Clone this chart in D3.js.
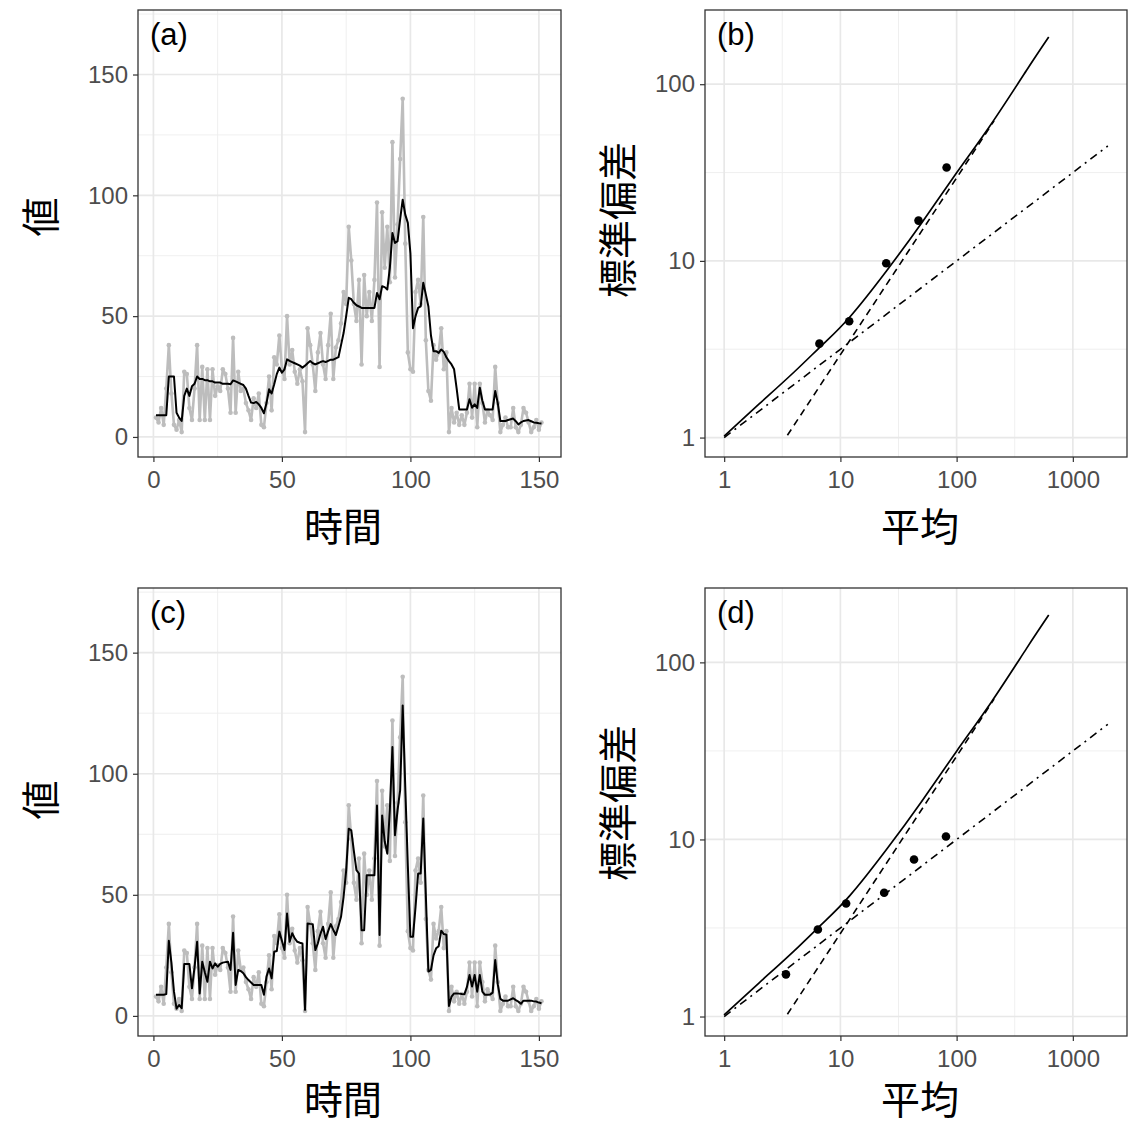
<!DOCTYPE html>
<html>
<head>
<meta charset="utf-8">
<script src="https://cdn.jsdelivr.net/npm/d3@7"></script>
<style>
  body { margin: 0; background: #fff; }
  .tick line { stroke: #333; stroke-width: 1.2; }
  .tick text { fill: #4d4d4d; font-family: "Liberation Sans", Arial, sans-serif; font-size: 24px; }
  .title { font-family: "Noto Sans CJK JP", sans-serif; font-size: 39px; fill: #000; }
  .plabel { font-family: "Liberation Sans", Arial, sans-serif; font-size: 31px; fill: #000; }
</style>
</head>
<body>
<div id="chart"></div>
<script>
// time series: raw counts (grey) and the two estimates (black)
var rawValues = [8,6,12,5,20,38,18,5,3,7, 2,27,26,12,7,20,38,7,29,7,
  28,7,28,17,21,19,28,26,20,10, 41,10,27,19,20,14,11,7,16,12,
  18,5,4,14,25,11,33,30,42,28, 24,50,30,36,27,22,28,23,2,45,
  38,30,19,35,43,30,24,38,51,24, 37,40,47,60,55,87,73,55,48,65,
  30,67,50,60,48,65,97,29,93,70, 87,64,122,66,88,115,140,80,35,28,
  27,60,65,55,91,40,19,15,38,32, 35,45,28,35,2,12,6,10,5,9,
  5,10,22,8,22,4,22,14,6,11, 9,7,29,14,2,5,8,4,4,12,
  4,2,5,12,10,6,2,4,7,3, 6];

var smoothA = [9,9,9,9,9,25,25,25,10,8, 6.6,17,20,17,21,22,25,24,24,23.5,
  23.5,23,23,22.5,22.5,22.5,22,22,22,21.8, 23.4,23,22.5,22,21.5,20,17,14.2,14,14.5,
  13.5,12,9.8,14,19.7,18,21.8,26,28.7,26.6, 28,32.1,31.5,31,30.5,30,29.5,28.7,29.5,30.5,
  31.4,30.5,30,30.5,31,31.4,31,31.5,32,32, 32.5,33,38,43,50,57.6,57,55.5,54.5,54,
  53.4,53.4,53.4,53.4,53.4,53.4,59.6,57,62.4,62, 61,70,84.4,80.3,81,90,98.2,92,88.6,76,
  45,50,53.4,54,63.8,59,54,42,35.5,35.5, 34.8,36.2,35.2,33,31.4,30,28,20,11.4,11.4,
  11.4,11.4,15.6,12.1,13.5,12,20.4,15,11.4,11.4, 11.4,11.4,19,14,6.6,6.6,6.6,7,7.3,7.6,
  6.5,5.2,6,6.6,6.8,7,6.5,6,5.9,5.7,5.6];

var smoothC = [8.7,8.7,8.7,8.7,9,31,22,10,3,4.5, 3.2,21.4,21.4,21.4,11.4,20,30.6,9.3,22.4,18,
  14.1,22.4,19.6,21.7,20.3,21.5,22,22.2,22.4,19, 34.3,12.8,19,18.5,17.6,16,14.8,13.8,12.8,12.8,
  12.8,12.8,8.7,16.2,19.6,15.5,26.5,26.8,34.8,31, 27.2,42.3,30.6,34.1,32,30.6,30.2,29.9,2.5,38.2,
  38,37.9,27.2,30,34,36.8,31.7,35,37.9,35.5, 33.4,37,40.9,49.2,60,77.3,76.6,68,60.2,58.8,
  35.4,35.4,58.1,58.1,58.1,58.1,86.9,33.4,82.8,72, 67,85,111,74.6,85,93.1,128.2,94.5,62,32.7,
  32.7,45,58.8,58.8,81.5,50,18.3,19,25,27.9, 28.8,35.2,33.8,33.5,4.1,8,9.3,9.3,9.2,9,
  8.9,12,16.9,12.1,16.9,10,16.9,10,8.7,8.7, 8.8,9.6,23.1,13,7,6.3,6.3,6.3,6.8,7.3,
  6.5,5.9,5,6.3,6.3,6.3,6.3,6,5.9,5.5,5.2];

var timeTicks = [0, 50, 100, 150];
var valueTicks = [0, 50, 100, 150];

// mean / sd panels
var meanB = [6.6, 11.9, 24.8, 47, 82];
var sdB = [3.4, 4.55, 9.7, 16.9, 33.8];
var meanD = [3.4, 6.4, 11.2, 23.8, 43, 81];
var sdD = [1.73, 3.1, 4.35, 5.0, 7.7, 10.4];

// model curves
var curveMean = [1, 2, 4, 7, 12, 25, 50, 100, 200, 400, 620];
var curveSd = [1.02, 1.55, 2.35, 3.35, 4.8, 8.8, 16.4, 31.5, 60, 120, 185];
var poisMean = [1, 2000];
var poisSd = [1, 44.7];
var slopeMean = [3.5, 210];
var slopeSd = [1.03, 62];

var logTicksX = [1, 10, 100, 1000];
var logTicksY = [1, 10, 100];

var svg = d3.select("#chart").append("svg")
    .attr("width", 1128)
    .attr("height", 1124)
    .style("background", "#fff");

var rows = [{top: 10, bottom: 457}, {top: 588, bottom: 1036}];

function frame(x0, x1, row, xGrid, yGrid, minorX, minorY) {
  var g = svg.append("g");
  g.selectAll(".mx").data(minorX).enter().append("line")
    .attr("x1", function(d){ return xGrid(d); }).attr("x2", function(d){ return xGrid(d); })
    .attr("y1", row.top).attr("y2", row.bottom)
    .attr("stroke", "#ededed").attr("stroke-width", 0.9);
  g.selectAll(".my").data(minorY).enter().append("line")
    .attr("y1", function(d){ return yGrid(d); }).attr("y2", function(d){ return yGrid(d); })
    .attr("x1", x0).attr("x2", x1)
    .attr("stroke", "#ededed").attr("stroke-width", 0.9);
  return g;
}

function majorGrid(g, x0, x1, row, x, y, xs, ys) {
  g.selectAll(".Mx").data(xs).enter().append("line")
    .attr("x1", function(d){ return x(d); }).attr("x2", function(d){ return x(d); })
    .attr("y1", row.top).attr("y2", row.bottom)
    .attr("stroke", "#e8e8e8").attr("stroke-width", 1.7);
  g.selectAll(".My").data(ys).enter().append("line")
    .attr("y1", function(d){ return y(d); }).attr("y2", function(d){ return y(d); })
    .attr("x1", x0).attr("x2", x1)
    .attr("stroke", "#e8e8e8").attr("stroke-width", 1.7);
}

function border(x0, x1, row) {
  svg.append("rect")
    .attr("x", x0).attr("y", row.top)
    .attr("width", x1 - x0).attr("height", row.bottom - row.top)
    .attr("fill", "none").attr("stroke", "#333").attr("stroke-width", 1.3);
}

function axes(x, y, row, x0, xTicks, yTicks, fmt) {
  var ax = svg.append("g").attr("transform", "translate(0," + row.bottom + ")")
    .call(d3.axisBottom(x).tickValues(xTicks).tickSize(5).tickPadding(9).tickFormat(fmt));
  ax.select(".domain").remove();
  var ay = svg.append("g").attr("transform", "translate(" + x0 + ",0)")
    .call(d3.axisLeft(y).tickValues(yTicks).tickSize(5).tickPadding(5).tickFormat(fmt));
  ay.select(".domain").remove();
}

function timePanel(row, black, label) {
  var x0 = 138, x1 = 561;
  var x = d3.scaleLinear().domain([-6, 158.6]).range([x0, x1]);
  var y = d3.scaleLinear().domain([-8.3, 176.7]).range([row.bottom, row.top]);
  var g = frame(x0, x1, row, x, y, [25, 75, 125], [25, 75, 125, 175]);
  majorGrid(g, x0, x1, row, x, y, timeTicks, valueTicks);

  var line = d3.line()
    .x(function(d, i){ return x(i + 1); })
    .y(function(d){ return y(d); });

  svg.append("path").datum(rawValues)
    .attr("d", line).attr("fill", "none")
    .attr("stroke", "#bdbdbd").attr("stroke-width", 2.6).attr("stroke-linejoin", "round");
  svg.append("g").selectAll("circle").data(rawValues).enter().append("circle")
    .attr("cx", function(d, i){ return x(i + 1); })
    .attr("cy", function(d){ return y(d); })
    .attr("r", 2.3).attr("fill", "#bdbdbd");
  svg.append("path").datum(black)
    .attr("d", line).attr("fill", "none")
    .attr("stroke", "#000").attr("stroke-width", 2).attr("stroke-linejoin", "round");

  border(x0, x1, row);
  axes(x, y, row, x0, timeTicks, valueTicks, d3.format("d"));

  svg.append("text").attr("class", "plabel").attr("x", 150).attr("y", row.top + 35).text(label);
}

function logPanel(row, means, sds, label) {
  var x0 = 705, x1 = 1127;
  var x = d3.scaleLog().domain([Math.pow(10, -0.165), Math.pow(10, 3.466)]).range([x0, x1]);
  var y = d3.scaleLog().domain([Math.pow(10, -0.11), Math.pow(10, 2.42)]).range([row.bottom, row.top]);
  var g = frame(x0, x1, row, x, y, [3.162, 31.62, 316.2], [3.162, 31.62]);
  majorGrid(g, x0, x1, row, x, y, logTicksX, logTicksY);

  var line = d3.line()
    .x(function(d){ return x(d[0]); })
    .y(function(d){ return y(d[1]); });

  svg.append("path").datum(d3.zip(poisMean, poisSd))
    .attr("d", line).attr("fill", "none").attr("stroke", "#000")
    .attr("stroke-width", 1.6).attr("stroke-dasharray", "8,5,2,5");
  svg.append("path").datum(d3.zip(slopeMean, slopeSd))
    .attr("d", line).attr("fill", "none").attr("stroke", "#000")
    .attr("stroke-width", 1.6).attr("stroke-dasharray", "7,5");
  svg.append("path").datum(d3.zip(curveMean, curveSd))
    .attr("d", line.curve(d3.curveNatural)).attr("fill", "none").attr("stroke", "#000")
    .attr("stroke-width", 1.7);

  svg.append("g").selectAll("circle").data(d3.zip(means, sds)).enter().append("circle")
    .attr("cx", function(d){ return x(d[0]); })
    .attr("cy", function(d){ return y(d[1]); })
    .attr("r", 4.3).attr("fill", "#000");

  border(x0, x1, row);
  axes(x, y, row, x0, logTicksX, logTicksY, d3.format("d"));

  svg.append("text").attr("class", "plabel").attr("x", 717).attr("y", row.top + 35).text(label);
}

timePanel(rows[0], smoothA, "(a)");
logPanel(rows[0], meanB, sdB, "(b)");
timePanel(rows[1], smoothC, "(c)");
logPanel(rows[1], meanD, sdD, "(d)");

// axis titles
function title(txt, x, y, rot) {
  var t = svg.append("text").attr("class", "title")
    .attr("text-anchor", "middle").attr("dominant-baseline", "central").text(txt);
  if (rot) t.attr("transform", "translate(" + x + "," + y + ") rotate(-90)");
  else t.attr("x", x).attr("y", y);
}
title("時間", 343, 524);
title("平均", 920, 524);
title("値", 38, 217, true);
title("標準偏差", 615, 220, true);
title("時間", 343, 1097);
title("平均", 920, 1097);
title("値", 38, 800, true);
title("標準偏差", 615, 803, true);
</script>
</body>
</html>
